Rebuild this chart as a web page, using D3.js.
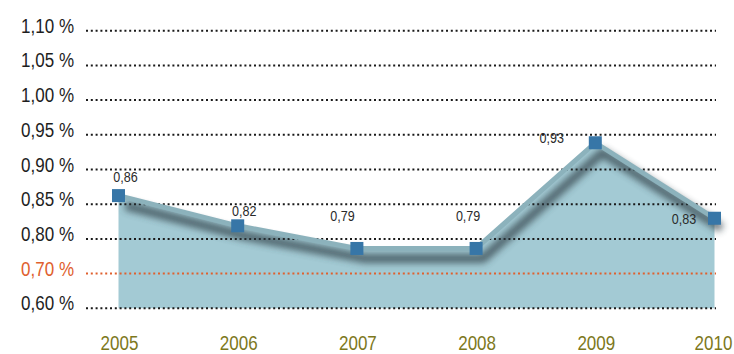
<!DOCTYPE html>
<html>
<head>
<meta charset="utf-8">
<script src="https://cdn.jsdelivr.net/npm/d3@7/dist/d3.min.js"></script>
<style>
  html, body { margin: 0; padding: 0; background: #ffffff; }
  svg { display: block; }
  text { font-family: "Liberation Sans", Arial, sans-serif; }
</style>
</head>
<body>
<svg id="chart" width="734" height="354"></svg>
<script>
// Yearly rate, in percent
const years = ["2005", "2006", "2007", "2008", "2009", "2010"];
const rates = [0.86, 0.82, 0.79, 0.79, 0.93, 0.83];
const rateLabels = ["0,86", "0,82", "0,79", "0,79", "0,93", "0,83"];

// Reference lines, bottom to top
const gridLabels = ["0,60 %", "0,70 %", "0,80 %", "0,85 %", "0,90 %", "0,95 %", "1,00 %", "1,05 %", "1,10 %"];
const highlightLabel = "0,70 %";

// Value label placement relative to each marker (dx, dy to baseline)
const labelOffsets = [[7, -14], [6.5, -10], [-14.5, -27], [-8, -27], [-43.5, 0], [-30.5, 6]];

// Narrow type: regular face squeezed horizontally
const NARROW = 0.81;

const svg = d3.select("#chart");

const x = d3.scalePoint().domain(years).range([118.5, 714.5]);
const gridY = d3.scalePoint().domain(gridLabels).range([308.3, 30.7]);
const y = d3.scaleLinear().domain([0.80, 0.90]).range([240.9, 165.4]);

const baseY = gridY(gridLabels[0]);
const pts = years.map((yr, i) => ({ year: yr, value: rates[i], label: rateLabels[i], off: labelOffsets[i] }));

const place = (px, py) => `translate(${px},${py}) scale(${NARROW},1)`;

// Drop shadow for the line
const defs = svg.append("defs");
defs.append("filter")
  .attr("id", "soft")
  .attr("x", "-20%").attr("y", "-50%").attr("width", "140%").attr("height", "200%")
  .append("feGaussianBlur").attr("stdDeviation", 3.6);

// Area under the series
const area = d3.area()
  .x(d => x(d.year))
  .y0(baseY)
  .y1(d => y(d.value));
svg.append("path")
  .datum(pts)
  .attr("d", area)
  .attr("fill", "#a3cad4");

// Dotted reference lines
svg.append("g")
  .selectAll("line")
  .data(gridLabels)
  .join("line")
  .attr("x1", 86)
  .attr("x2", 716)
  .attr("y1", d => gridY(d))
  .attr("y2", d => gridY(d))
  .attr("stroke", d => d === highlightLabel ? "#e0602e" : "#1a1a1a")
  .attr("stroke-width", 2)
  .attr("stroke-dasharray", "2,2.8");

// Reference line labels
svg.append("g")
  .selectAll("text")
  .data(gridLabels)
  .join("text")
  .attr("transform", d => place(74, gridY(d) + 2))
  .attr("text-anchor", "end")
  .attr("font-size", 21)
  .attr("fill", d => d === highlightLabel ? "#e0602e" : "#1e1e1e")
  .text(d => d);

const line = d3.line()
  .x(d => x(d.year))
  .y(d => y(d.value));

// Shadow, then the line itself
svg.append("path")
  .datum(pts)
  .attr("d", line)
  .attr("transform", "translate(7,10)")
  .attr("fill", "none")
  .attr("stroke", "#2f3e44")
  .attr("stroke-width", 9)
  .attr("stroke-linejoin", "round")
  .attr("opacity", 0.72)
  .attr("filter", "url(#soft)");

svg.append("path")
  .datum(pts)
  .attr("d", line)
  .attr("fill", "none")
  .attr("stroke", "#8cb2bc")
  .attr("stroke-width", 5)
  .attr("stroke-linejoin", "miter");

// Markers
const size = 13;
svg.append("g")
  .selectAll("rect")
  .data(pts)
  .join("rect")
  .attr("x", d => x(d.year) - size / 2)
  .attr("y", d => y(d.value) - size / 2)
  .attr("width", size)
  .attr("height", size)
  .attr("fill", "#3776a7");

// Value labels
svg.append("g")
  .selectAll("text")
  .data(pts)
  .join("text")
  .attr("transform", d => place(x(d.year) + d.off[0], y(d.value) + d.off[1]))
  .attr("text-anchor", "middle")
  .attr("font-size", 15.5)
  .attr("fill", "#2a2a2a")
  .text(d => d.label);

// Year labels
svg.append("g")
  .selectAll("text")
  .data(years)
  .join("text")
  .attr("transform", d => place(x(d) + 1 - (d === years[years.length - 1] ? 2 : 0), 349.5))
  .attr("text-anchor", "middle")
  .attr("font-size", 21)
  .attr("fill", "#7d781c")
  .text(d => d);
</script>
</body>
</html>
